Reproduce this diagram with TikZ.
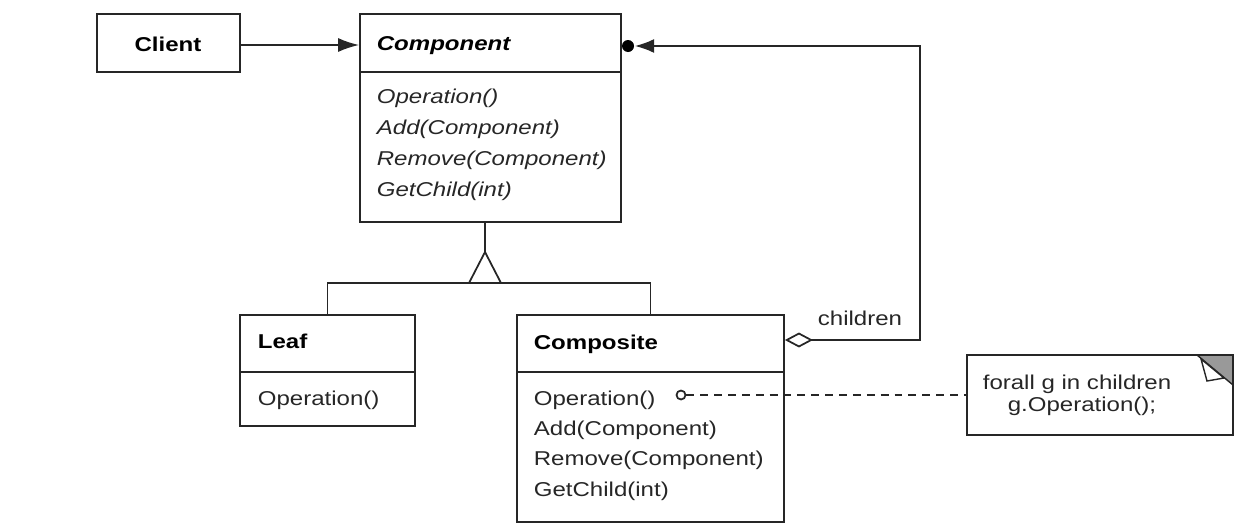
\documentclass[tikz,border=0pt]{standalone}
\usepackage{fontspec}
\setmainfont{Liberation Sans}[FakeStretch=1.2]
\usetikzlibrary{arrows.meta,fit}
\begin{document}
\begin{tikzpicture}[x=0.02cm,y=-0.02cm,
  line width=1pt,
  box/.style={draw=black!85, inner sep=0pt, fill=none},
  title/.style={font=\fontsize{11.4}{13}\selectfont\bfseries, text=black, inner sep=0pt, anchor=base west},
  ititle/.style={font=\fontsize{11.4}{13}\selectfont\bfseries\itshape, text=black, inner sep=0pt, anchor=base west},
  op/.style={font=\fontsize{11.4}{13}\selectfont, text=black!85, inner sep=0pt, anchor=base west},
  iop/.style={font=\fontsize{11.4}{13}\selectfont\itshape, text=black!85, inner sep=0pt, anchor=base west},
  notetext/.style={font=\fontsize{11.4}{13}\selectfont, text=black!85, inner sep=0pt, anchor=base},
  conn/.style={draw=black!85, line width=1pt},
  ]
\useasboundingbox (0,0) rectangle (1257,531);

% Client
\node[box, fit={(97,14) (240,72)}] (client) {};
\node[title, anchor=base] (clientT) at (168,51) {Client};

% Component
\node[box, fit={(360,14) (621,222)}] (comp) {};
\draw[conn] (comp.west |- 0,72) -- (comp.east |- 0,72);
\node[ititle] (compT) at (376,50) {Component};
\node[iop] (c1) at (376,103) {Operation()};
\node[iop] (c2) at (376,134) {Add(Component)};
\node[iop] (c3) at (376,165) {Remove(Component)};
\node[iop] (c4) at (376,196) {GetChild(int)};

% Leaf
\node[box, fit={(240,315) (415,426)}] (leaf) {};
\draw[conn] (leaf.west |- 0,372) -- (leaf.east |- 0,372);
\node[title] (leafT) at (257,348) {Leaf};
\node[op] (l1) at (257,405) {Operation()};

% Composite
\node[box, fit={(517,315) (784,522)}] (compos) {};
\draw[conn] (compos.west |- 0,372) -- (compos.east |- 0,372);
\node[title] (composT) at (533,349) {Composite};
\node[op] (p1) at (533,405) {Operation()};
\node[op] (p2) at (533,435) {Add(Component)};
\node[op] (p3) at (533,465) {Remove(Component)};
\node[op] (p4) at (533,496) {GetChild(int)};

% Note
\fill[black!40] (1197,355) -- (1233,355) -- (1233,385) -- cycle;
\draw[conn, line width=0.8pt] (1197,355) -- (1233,385);
\draw[conn, line width=0.8pt, fill=white] (1201,359) -- (1207,381) -- (1224,378) -- cycle;
\node[box, fit={(967,355) (1233,435)}] (note) {};
\node[notetext] (n1) at (1077,389) {forall g in children};
\node[notetext] (n2) at (1082,411) {g.Operation();};

% Client -> Component
\draw[conn, -{Latex[length=12pt,width=8pt]}] (client.east |- 0,45) -- (comp.west |- 0,45);

% Inheritance
\coordinate (apex) at (485,252);
\draw[conn] (comp.south -| apex) -- (apex);
\draw[conn, fill=white] (apex) -- ++(-16,31) -- ++(32,0) -- cycle;
\draw[conn] (leaf.north) -- (leaf.north |- 0,283) -- (469,283);
\draw[conn] (501,283) -- (compos.north |- 0,283) -- (compos.north);

% Aggregation children
\coordinate (tb) at (920,340);
\coordinate (tt) at (920,46);
\draw[conn, {Diamond[open,length=16pt,width=8.5pt,fill=white]}-{Latex[length=11pt,width=8pt]}, shorten >=13*0.02cm]
  (compos.east |- tb) -- (tb) -- (tt) -- (tt -| comp.east);
\fill[black] (628,46) circle (6);
\node[op] (childrenL) at (817,325) {children};

% Dashed note link
\node[circle, draw=black!85, line width=1pt, fill=white, minimum size=9*0.02cm, inner sep=0pt] (odot) at (681,395) {};
\draw[conn, dash pattern=on 4.5pt off 3.4pt] (odot.east) -- (odot.east -| note.west);
\end{tikzpicture}
\end{document}
